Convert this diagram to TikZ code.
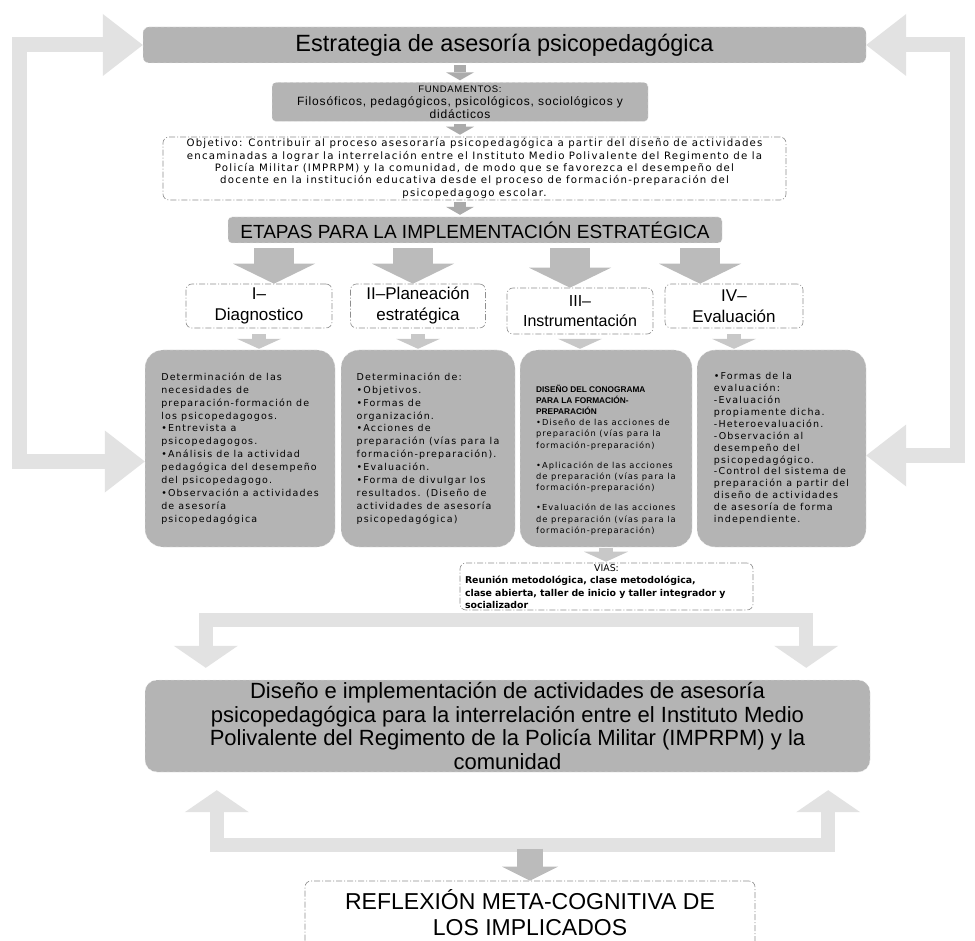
\documentclass[tikz,border=0pt]{standalone}
\usepackage{fontspec}
\setmainfont{Liberation Sans}
\newfontfamily\gulim[LetterSpace=12]{DejaVu Sans}
\newfontfamily\viasfont{DejaVu Sans}
\newfontfamily\hdfont{Liberation Sans}
\newfontfamily\funfont[LetterSpace=7]{Liberation Sans}
\newcommand\hd{\hdfont\bfseries}
\usetikzlibrary{arrows.meta,positioning,calc}
\definecolor{boxgrey}{HTML}{B4B4B4}
\definecolor{arrgrey}{HTML}{BBBBBB}
\definecolor{midgrey}{HTML}{ABABAB}
\definecolor{chevgrey}{HTML}{C8C8C8}
\definecolor{loopgrey}{HTML}{E2E2E2}
\definecolor{dotgrey}{HTML}{8E8E8E}

\begin{document}
\begin{tikzpicture}[x=1pt,y=-1pt,
  greybox/.style={fill=boxgrey,draw=gray!15,dashed,rounded corners=6pt,inner sep=0pt,align=center},
  dotbox/.style={fill=white,draw=dotgrey,line width=0.6pt,dash pattern=on 6pt off 2pt on 1pt off 2pt,rounded corners=6pt,inner sep=0pt,align=center},
  bodybox/.style={greybox,rounded corners=18pt,align=left,minimum height=197pt,font=\fontsize{9.5}{12.9}\selectfont\gulim},
  midarr/.style={draw=midgrey,line width=12pt,-{Triangle[width=28pt,length=8pt,line width=0pt]},shorten <=2pt,shorten >=2pt},
  stagearr/.style={draw=arrgrey,line width=40pt,-{Triangle[width=82pt,length=20pt,line width=0pt]},shorten <=5pt},
  chevarr/.style={draw=chevgrey,line width=14pt,-{Triangle[width=44pt,length=10pt,line width=0pt]},shorten <=6pt,shorten >=1pt},
  looparr/.style={draw=loopgrey,line width=15pt,{Triangle[width=62pt,length=40pt,line width=0pt]}-{Triangle[width=62pt,length=40pt,line width=0pt]}},
  splitarr/.style={draw=loopgrey,line width=14pt,{Triangle[width=64pt,length=22pt,line width=0pt]}-{Triangle[width=64pt,length=22pt,line width=0pt]}},
  downarr/.style={draw=arrgrey,line width=26pt,-{Triangle[width=56pt,length=14pt,line width=0pt]}}
]
\fill[white] (0,0) rectangle (975,941);
\useasboundingbox (0,0) rectangle (975,941);

\node[greybox,minimum width=723pt,minimum height=36pt,font=\fontsize{23.5}{27}\selectfont] (est) at (504.5,45) {Estrategia de asesoría psicopedagógica};
\node[greybox,rounded corners=4pt,minimum width=376pt,minimum height=39pt,font=\fontsize{12}{13.2}\selectfont\funfont] (fun) at (460,102)
  {{\fontsize{9.5}{12.5}\selectfont FUNDAMENTOS:}\\ Filosóficos, pedagógicos, psicológicos, sociológicos y\\ didácticos};
\node[dotbox,minimum width=623pt,minimum height=63pt,font=\fontsize{10.2}{12.3}\selectfont\gulim] (obj) at (474.5,168.5)
  {Objetivo: Contribuir al proceso asesoraría psicopedagógica a partir del diseño de actividades\\
   encaminadas a lograr la interrelación entre el Instituto Medio Polivalente del Regimento de la\\
   Policía Militar (IMPRPM) y la comunidad, de modo que se favorezca el desempeño del\\
   docente en la institución educativa desde el proceso de formación-preparación del\\
   psicopedagogo escolar.};
\node[greybox,rounded corners=4pt,minimum width=494pt,minimum height=26pt,font=\fontsize{19}{22}\selectfont] (eta) at (475,230) {ETAPAS PARA LA IMPLEMENTACIÓN ESTRATÉGICA};

% etapas
\node[dotbox,minimum width=146pt,minimum height=44pt,font=\fontsize{17}{21}\selectfont] (e1) at (259,306) {I–\\Diagnostico};
\node[dotbox,minimum width=135pt,minimum height=44pt,font=\fontsize{17}{21}\selectfont] (e2) at (418,306) {II–Planeación\\estratégica};
\node[dotbox,minimum width=146pt,minimum height=46pt,font=\fontsize{16}{20}\selectfont] (e3) at (580,311) {III–\\Instrumentación};
\node[dotbox,minimum width=138pt,minimum height=44pt,font=\fontsize{17}{21}\selectfont] (e4) at (734,306) {IV–\\Evaluación};

\node[bodybox,minimum width=190pt] (c1) at (240,448.5)
  {Determinación de las\\ necesidades de\\ preparación-formación de\\ los psicopedagogos.\\ •Entrevista a\\ psicopedagogos.\\
   •Análisis de la actividad\\ pedagógica del desempeño\\ del psicopedagogo.\\ •Observación a actividades\\ de asesoría\\ psicopedagógica};
\node[bodybox,minimum width=174pt] (c2) at (428,448.5)
  {Determinación de:\\ •Objetivos.\\ •Formas de\\ organización.\\ •Acciones de\\ preparación (vías para la\\ formación-preparación).\\
   •Evaluación.\\ •Forma de divulgar los\\ resultados. (Diseño de\\ actividades de asesoría\\ psicopedagógica)};
\node[bodybox,minimum width=172pt,font=\fontsize{8.3}{11.2}\selectfont\gulim] (c3) at (606,448.5)
  {\rule{0pt}{30pt}\hd DISEÑO DEL CONOGRAMA\\ \hd PARA LA FORMACIÓN-\\ \hd PREPARACIÓN\\
   \gulim\mdseries •Diseño de las acciones de\\ preparación (vías para la\\ formación-preparación)\\[9pt]
   •Aplicación de las acciones\\ de preparación (vías para la\\ formación-preparación)\\[9pt]
   •Evaluación de las acciones\\ de preparación (vías para la\\ formación-preparación)};
\node[bodybox,minimum width=169pt,font=\fontsize{9.5}{11.9}\selectfont\gulim] (c4) at (781.5,448.5)
  {•Formas de la\\ evaluación:\\ -Evaluación\\ propiamente dicha.\\ -Heteroevaluación.\\ -Observación al\\ desempeño del\\
   psicopedagógico.\\ -Control del sistema de\\ preparación a partir del\\ diseño de actividades\\ de asesoría de forma\\ independiente.};

\node[dotbox,minimum width=293pt,minimum height=47pt,text width=283pt,align=left,font=\fontsize{9.4}{12.3}\selectfont\viasfont] (vias) at (606.5,586.5)
  {{\centering VIAS:\par} \bfseries Reunión metodológica, clase metodológica,\\
   clase abierta, taller de inicio y taller integrador y\\ socializador};

\node[greybox,rounded corners=12pt,minimum width=725pt,minimum height=92pt,font=\fontsize{22}{23.5}\selectfont] (dis) at (507.5,726)
  {Diseño e implementación de actividades de asesoría\\ psicopedagógica para la interrelación entre el Instituto Medio\\
   Polivalente del Regimento de la Policía Militar (IMPRPM) y la\\ comunidad};
\node[dotbox,minimum width=450pt,minimum height=66pt,font=\fontsize{23}{26}\selectfont] (ref) at (530,914)
  {REFLEXIÓN META-COGNITIVA DE\\ LOS IMPLICADOS\rule[-3pt]{0pt}{3pt}};

% flechas
\draw[midarr] (est.south -| fun.north) -- (fun.north);
\draw[midarr] (fun.south) -- (fun.south |- obj.north);
\draw[midarr] (fun.south |- obj.south) -- (fun.south |- eta.north);
\foreach \n/\dx in {1/15,2/-5,3/-10,4/-34}
  \draw[stagearr] ($(e\n.north |- eta.south)+(\dx,0)$) -- ($(e\n.north)+(\dx,0)$);
\foreach \n in {1,...,4}
  \draw[chevarr] (e\n.south) -- (e\n.south |- c\n.north);
\draw[chevarr,shorten <=1pt] (c3.south) -- (c3.south |- vias.north);

\coordinate (lx) at (19,0);
\coordinate (rx) at (957,0);
\draw[looparr] (est.west) -- (est.west -| lx) |- ([yshift=-13pt]c1.west);
\draw[looparr] (est.east) -- (est.east -| rx) |- ([yshift=-7pt]c4.east);

\coordinate (sl) at ([xshift=61pt,yshift=12pt]dis.north west);
\coordinate (sr) at ([xshift=-64pt,yshift=12pt]dis.north east);
\draw[splitarr] (sl) -- ++(0,-48) -| (sr);
\coordinate (bl) at ([xshift=72pt,yshift=-18pt]dis.south west);
\coordinate (br) at ([xshift=-42pt,yshift=-18pt]dis.south east);
\draw[splitarr] (bl) -- ++(0,55) -| (br);
\draw[downarr] ([yshift=32pt]ref.north) -- (ref.north);
\end{tikzpicture}
\end{document}
